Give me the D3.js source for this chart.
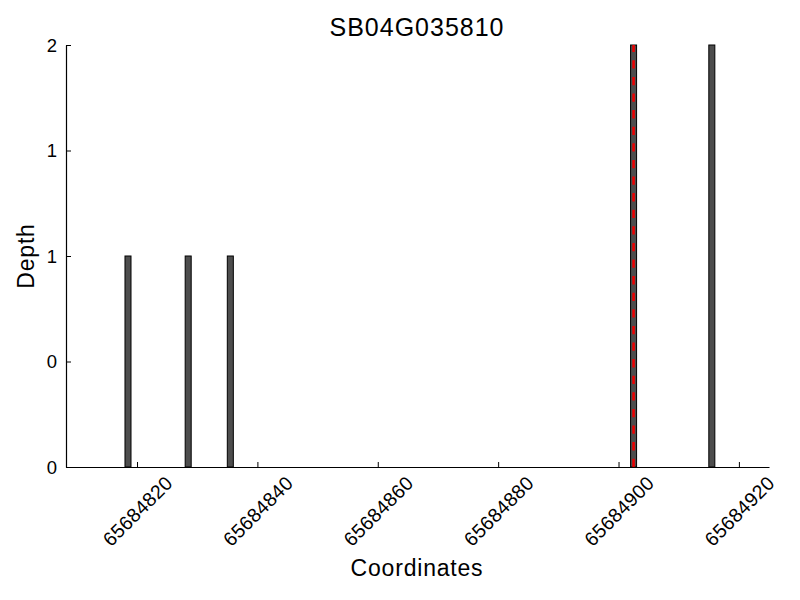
<!DOCTYPE html>
<html><head><meta charset="utf-8">
<script src="https://cdn.jsdelivr.net/npm/d3@7"></script>
<style>body{margin:0;background:#fff}text{font-family:"Liberation Sans",Arial,sans-serif;fill:#000}</style>
</head><body>
<script>
const title = "SB04G035810";
const positions = [65684818, 65684828, 65684835, 65684902, 65684915];
const depths = [1, 1, 1, 2, 2];
const markerPos = [65684902.5];
const xTicks = [65684820, 65684840, 65684860, 65684880, 65684900, 65684920];
const yTicks = [0, 0.5, 1, 1.5, 2];
const yTickLabels = ["0", "0", "1", "1", "2"];
const xDomain = [65684808.2, 65684925];

const W = 800, H = 600;
const svg = d3.select("body").append("svg").attr("width", W).attr("height", H);
const x = d3.scaleLinear().domain(xDomain).range([66, 769]);
const y = d3.scaleLinear().domain([0, 2]).range([467, 45]);

// bars
svg.append("g").selectAll("rect").data(positions).join("rect")
  .attr("x", d => x(d)).attr("width", d => x(d + 1) - x(d))
  .attr("y", (d, i) => y(depths[i])).attr("height", (d, i) => y(0) - y(depths[i]))
  .attr("fill", "#4d4d4d").attr("stroke", "#000").attr("stroke-width", 1);

// marker line
svg.append("g").selectAll("line").data(markerPos).join("line")
  .attr("x1", d => x(d)).attr("x2", d => x(d))
  .attr("y1", y(0)).attr("y2", y(2))
  .attr("stroke", "#ee0000").attr("stroke-width", 2.5).attr("stroke-dasharray", "8.3,8.3");

// x axis
const xAxis = d3.axisBottom(x).tickValues(xTicks).tickSizeInner(-5).tickSizeOuter(0).tickFormat(d3.format("d"));
const gx = svg.append("g").attr("transform", `translate(0,${y(0)})`).call(xAxis);
gx.select(".domain").attr("stroke", "#000").attr("stroke-width", 1.2);
gx.selectAll(".tick line").attr("stroke", "#000");
gx.selectAll(".tick text")
  .attr("font-size", 19.5).style("letter-spacing", "0.3px")
  .attr("text-anchor", "middle").attr("dominant-baseline", "central")
  .attr("x", 0).attr("y", 0).attr("dy", null)
  .attr("transform", "translate(0,44) rotate(-45)");

// y axis
const yAxis = d3.axisLeft(y).tickValues(yTicks).tickSizeInner(-5).tickSizeOuter(0).tickFormat((d, i) => yTickLabels[i]);
const gy = svg.append("g").attr("transform", `translate(66,0)`).call(yAxis);
gy.select(".domain").attr("stroke", "#000").attr("stroke-width", 1.2);
gy.selectAll(".tick line").attr("stroke", "#000");
gy.selectAll(".tick text").attr("font-size", 18.5).attr("x", -9).attr("dy", "0.35em");

// title & labels
svg.append("text").attr("x", 417).attr("y", 36).attr("text-anchor", "middle")
  .attr("font-size", 25).style("letter-spacing", "1px").text(title);
svg.append("text").attr("x", 417).attr("y", 576).attr("text-anchor", "middle")
  .attr("font-size", 23).style("letter-spacing", "0.8px").text("Coordinates");
svg.append("text").attr("transform", "translate(34,256) rotate(-90)").attr("text-anchor", "middle")
  .attr("font-size", 23).style("letter-spacing", "0.8px").text("Depth");
</script>
</body></html>
